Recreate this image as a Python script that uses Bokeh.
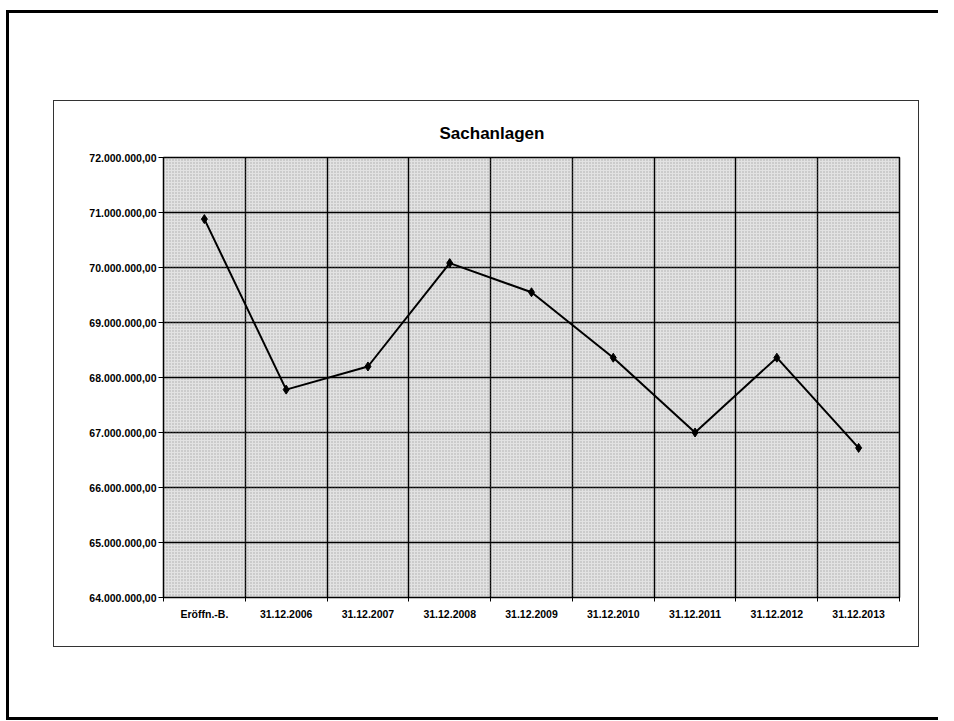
import numpy as np
from bokeh.plotting import figure
from bokeh.layouts import column
from bokeh.models import Range1d, FixedTicker, BoxAnnotation
from bokeh.embed import file_html
from bokeh.resources import INLINE

# ---- data ----
categories = ["Eröffn.-B.", "31.12.2006", "31.12.2007", "31.12.2008", "31.12.2009",
              "31.12.2010", "31.12.2011", "31.12.2012", "31.12.2013"]
values = [70880000, 67780000, 68200000, 70080000, 69550000,
          68360000, 67000000, 68360000, 66720000]
y_ticks = [64000000, 65000000, 66000000, 67000000, 68000000,
           69000000, 70000000, 71000000, 72000000]
y_tick_labels = ["64.000.000,00", "65.000.000,00", "66.000.000,00", "67.000.000,00",
                 "68.000.000,00", "69.000.000,00", "70.000.000,00", "71.000.000,00",
                 "72.000.000,00"]
title_text = "Sachanlagen"

n = len(categories)
x_centers = list(np.arange(n) + 0.5)
x_bounds = list(range(0, n + 1))

FONT = "Liberation Sans"

W, H = 864, 545
p = figure(width=W, height=H, output_backend="svg", toolbar_location=None,
           x_range=Range1d(0, n), y_range=Range1d(y_ticks[0], y_ticks[-1]),
           min_border_left=109, min_border_right=19, min_border_top=56, min_border_bottom=49,
           background_fill_color="#e2e2e2", border_fill_color="white",
           styles={"outline": "1px solid #333333"},
           margin=(91, 20, 74, 48))

p.title.text = title_text
p.title.align = "left"
p.title.offset = 276
p.title.standoff = 30
p.title.text_font = FONT
p.title.text_font_size = "17px"
p.title.text_font_style = "bold"
p.title.text_color = "black"

p.outline_line_color = "black"
p.outline_line_width = 1.5

tex = BoxAnnotation(fill_color=None, line_color=None, hatch_pattern="dot",
                    hatch_color="#7a7a7a", hatch_scale=3, hatch_alpha=0.55, level="underlay")
p.add_layout(tex)

p.yaxis.ticker = FixedTicker(ticks=y_ticks)
p.yaxis.major_label_overrides = {t: l for t, l in zip(y_ticks, y_tick_labels)}
p.yaxis.major_tick_out = 5
p.yaxis.major_tick_in = 0
p.yaxis.minor_tick_line_color = None
p.yaxis.major_label_standoff = 2
p.yaxis.axis_line_color = "black"
p.yaxis.major_tick_line_color = "black"
p.yaxis.major_label_text_font = FONT
p.yaxis.major_label_text_font_size = "10.5px"
p.yaxis.major_label_text_font_style = "bold"
p.yaxis.major_label_text_color = "black"

p.xaxis.ticker = FixedTicker(ticks=x_centers, minor_ticks=x_bounds)
p.xaxis.major_label_overrides = {float(c): l for c, l in zip(x_centers, categories)}
p.xaxis.major_tick_line_color = None
p.xaxis.major_tick_out = 0
p.xaxis.major_tick_in = 0
p.xaxis.minor_tick_out = 4
p.xaxis.minor_tick_in = 0
p.xaxis.minor_tick_line_color = "black"
p.xaxis.major_label_standoff = 6
p.xaxis.axis_line_color = "black"
p.xaxis.major_label_text_font = FONT
p.xaxis.major_label_text_font_size = "10.5px"
p.xaxis.major_label_text_font_style = "bold"
p.xaxis.major_label_text_color = "black"

p.xgrid.ticker = FixedTicker(ticks=x_bounds[1:-1])
p.ygrid.ticker = FixedTicker(ticks=y_ticks[1:-1])
for g in (p.xgrid, p.ygrid):
    g.grid_line_color = "black"
    g.grid_line_width = 1.4
    g.grid_line_alpha = 1.0

p.line(x_centers, values, line_color="black", line_width=2)
p.scatter(x_centers, values, marker="diamond", size=9, fill_color="black", line_color="black")

page = column(p, margin=(10, 0, 0, 6),
              styles={"box-shadow": "inset 3px 3px 0 0 black, inset 0 -3px 0 0 black"})

open("out.html", "w").write(file_html(page, INLINE))
